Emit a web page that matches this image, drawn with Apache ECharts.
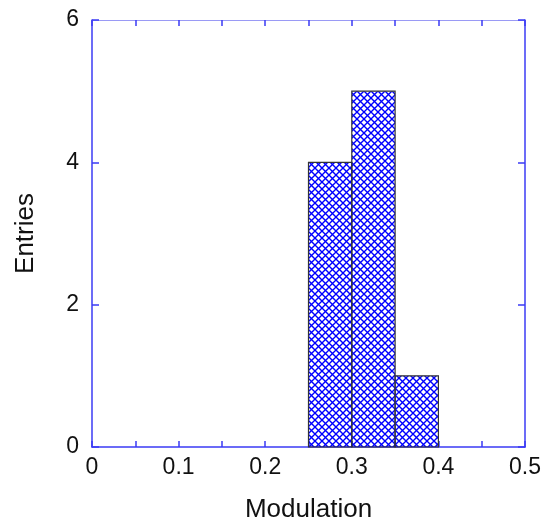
<!DOCTYPE html>
<html>
<head>
<meta charset="utf-8">
<script src="https://cdn.jsdelivr.net/npm/echarts@6/dist/echarts.min.js"></script>
<style>
  html, body { margin: 0; padding: 0; background: #fff; }
  #chart { width: 545px; height: 528px; }
</style>
</head>
<body>
<div id="chart"></div>
<script>
// histogram bins (modulation) and counts
var binStart = [0.25, 0.30, 0.35];
var binEnd = [0.30, 0.35, 0.40];
var entries = [4, 5, 1];
var xTicks = [0, 0.1, 0.2, 0.3, 0.4, 0.5];
var yTicks = [0, 2, 4, 6];

var chart = echarts.init(document.getElementById('chart'));

// cross hatch fill
var hatch = document.createElement('canvas');
hatch.width = 7;
hatch.height = 7;
var hc = hatch.getContext('2d');
hc.strokeStyle = '#0000ff';
hc.lineWidth = 1.4;
hc.beginPath();
hc.moveTo(-1, -1); hc.lineTo(8, 8);
hc.moveTo(8, -1); hc.lineTo(-1, 8);
hc.stroke();

var barData = [];
for (var i = 0; i < entries.length; i++) {
    barData.push([binStart[i], binEnd[i], entries[i]]);
}

var axisBlue = '#3b3bf5';
var font = 'Liberation Sans, Arial, sans-serif';

var option = {
    animation: false,
    grid: { left: 92, right: 20, top: 20, bottom: 78 },
    xAxis: [{
        type: 'value',
        min: 0, max: 0.5, interval: 0.05,
        name: 'Modulation',
        nameLocation: 'middle',
        nameGap: 50,
        nameTextStyle: { fontFamily: font, fontSize: 26, color: '#111' },
        axisLine: { show: true, onZero: false, lineStyle: { color: axisBlue, width: 1.5 } },
        axisTick: { show: true, inside: true, length: 6, lineStyle: { color: axisBlue, width: 1.5 } },
        axisLabel: {
            margin: 9,
            fontFamily: font, fontSize: 23, color: '#111',
            formatter: function (v) {
                for (var k = 0; k < xTicks.length; k++) {
                    if (Math.abs(v - xTicks[k]) < 1e-6) return String(xTicks[k]);
                }
                return '';
            }
        },
        splitLine: { show: false }
    }, {
        type: 'value', position: 'top',
        min: 0, max: 0.5, interval: 0.05,
        axisLine: { show: true, onZero: false, lineStyle: { color: '#9a9af5', width: 1 } },
        axisTick: { show: true, inside: true, length: 6, lineStyle: { color: axisBlue, width: 1.5 } },
        axisLabel: { show: false },
        splitLine: { show: false }
    }],
    yAxis: [{
        type: 'value',
        min: 0, max: 6, interval: 2,
        name: 'Entries',
        nameLocation: 'middle',
        nameGap: 53,
        nameTextStyle: { fontFamily: font, fontSize: 26, color: '#111' },
        axisLine: { show: true, onZero: false, lineStyle: { color: axisBlue, width: 1.5 } },
        axisTick: { show: true, inside: true, length: 7, lineStyle: { color: axisBlue, width: 1.5 } },
        axisLabel: { margin: 13, fontFamily: font, fontSize: 23, color: '#111',
            formatter: function (v) { return yTicks.indexOf(v) >= 0 ? String(v) : ''; } },
        splitLine: { show: false }
    }, {
        type: 'value', position: 'right',
        min: 0, max: 6, interval: 2,
        axisLine: { show: true, onZero: false, lineStyle: { color: axisBlue, width: 1.5 } },
        axisTick: { show: true, inside: true, length: 7, lineStyle: { color: axisBlue, width: 1.5 } },
        axisLabel: { show: false },
        splitLine: { show: false }
    }],
    series: [{
        type: 'custom',
        xAxisIndex: 0,
        yAxisIndex: 0,
        data: barData,
        encode: { x: [0, 1], y: 2 },
        renderItem: function (params, api) {
            var p0 = api.coord([api.value(0), api.value(2)]);
            var p1 = api.coord([api.value(1), 0]);
            return {
                type: 'rect',
                shape: { x: p0[0], y: p0[1], width: p1[0] - p0[0], height: p1[1] - p0[1] },
                style: {
                    fill: { image: hatch, repeat: 'repeat' },
                    stroke: '#333',
                    lineWidth: 1.2
                }
            };
        }
    }]
};

chart.setOption(option);
</script>
</body>
</html>
